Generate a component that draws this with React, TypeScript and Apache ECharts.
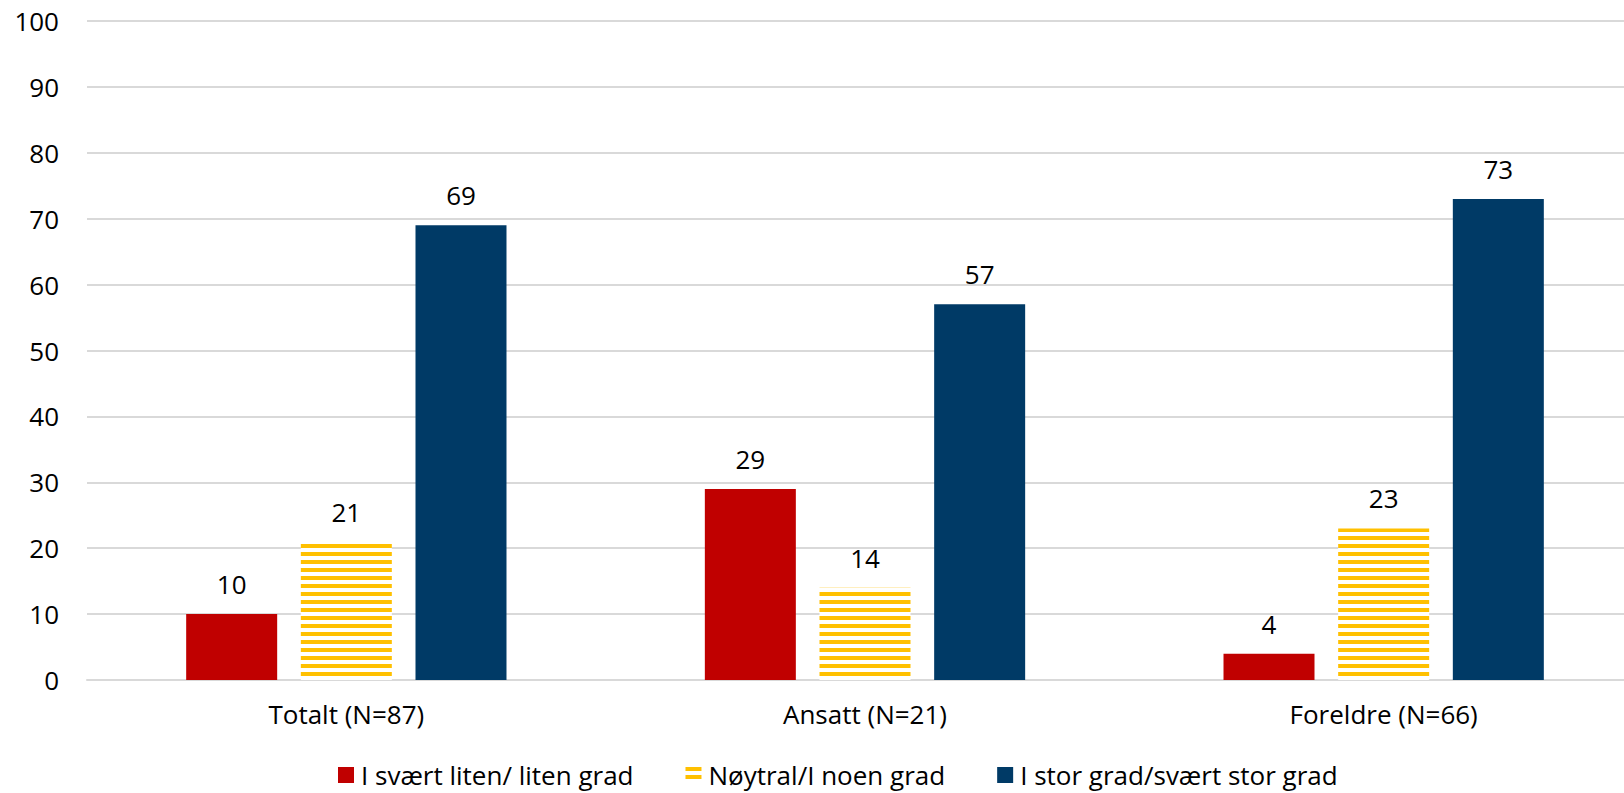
import React, { useEffect, useRef } from "react";
import * as echarts from "echarts";

const categories = ["Totalt (N=87)", "Ansatt (N=21)", "Foreldre (N=66)"];
const seriesNames = [
  "I svært liten/ liten grad",
  "Nøytral/I noen grad",
  "I stor grad/svært stor grad",
];
const lowValues = [10, 29, 4];
const neutralValues = [21, 14, 23];
const highValues = [69, 57, 73];
const yTicks = { min: 0, max: 100, interval: 10 };

const FONT = "'Open Sans', 'Noto Sans', sans-serif";
const RED = "#C00000";
const YELLOW = "#FFC000";
const NAVY = "#003A66";

export default function App() {
  const ref = useRef<HTMLDivElement>(null);
  useEffect(() => {
    document.body.style.margin = "0";
    document.body.style.overflow = "hidden";
    const chart = echarts.init(ref.current!, null, { renderer: "svg" });
    const label = {
      show: true,
      position: "top" as const,
      distance: 17,
      color: "#000",
      fontSize: 26,
      fontFamily: FONT,
    };
    chart.setOption({
      animation: false,
      backgroundColor: "#fff",
      textStyle: { fontFamily: FONT },
      grid: { left: 87, right: 37, top: 21, bottom: 113, containLabel: false },
      legend: {
        left: 333,
        top: 757,
        itemWidth: 16,
        itemHeight: 16,
        itemGap: 52,
        icon: "rect",
        textStyle: { fontSize: 26, fontFamily: FONT, color: "#000", padding: [0, 0, 0, 2] },
        data: seriesNames,
      },
      xAxis: {
        type: "category",
        data: categories,
        axisLine: { show: true, lineStyle: { color: "#D9D9D9", width: 2 } },
        axisTick: { show: false },
        axisLabel: { fontSize: 26, fontFamily: FONT, color: "#000", margin: 21 },
      },
      yAxis: {
        type: "value",
        min: yTicks.min,
        max: yTicks.max,
        interval: yTicks.interval,
        axisLine: { show: false },
        axisTick: { show: false },
        splitLine: { lineStyle: { color: "#D9D9D9", width: 2 } },
        axisLabel: { fontSize: 26, fontFamily: FONT, color: "#000", margin: 28 },
      },
      series: [
        {
          name: seriesNames[0],
          type: "bar",
          data: lowValues,
          barWidth: 91,
          barGap: "26%",
          itemStyle: { color: RED },
          label,
        },
        {
          name: seriesNames[1],
          type: "bar",
          data: neutralValues,
          barWidth: 91,
          barGap: "26%",
          itemStyle: {
            color: "#fff",
            decal: {
              symbol: "rect",
              symbolSize: 1,
              color: YELLOW,
              dashArrayX: [1, 0],
              dashArrayY: [4, 4],
              rotation: 0,
            },
          },
          label,
        },
        {
          name: seriesNames[2],
          type: "bar",
          data: highValues,
          barWidth: 91,
          barGap: "26%",
          itemStyle: { color: NAVY },
          label,
        },
      ],
    });
    return () => chart.dispose();
  }, []);
  return (
    <div style={{ position: "fixed", left: 0, top: 0, width: 1624, height: 793, overflow: "hidden" }}>
      <div ref={ref} style={{ width: 1680, height: 793 }} />
    </div>
  );
}
